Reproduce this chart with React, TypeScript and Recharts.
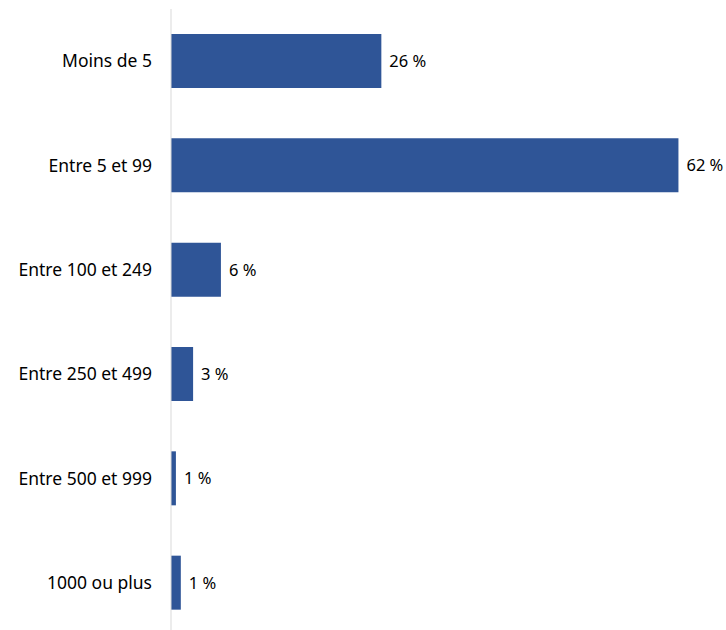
import React from "react";
import { BarChart, Bar, XAxis, YAxis, LabelList } from "recharts";

const categories = ["Moins de 5", "Entre 5 et 99", "Entre 100 et 249", "Entre 250 et 499", "Entre 500 et 999", "1000 ou plus"];
const values = [25.7, 62, 6.1, 2.7, 0.6, 1.2];
const valueLabels = ["26 %", "62 %", "6 %", "3 %", "1 %", "1 %"];

const data = categories.map((c, i) => ({ name: c, value: values[i], label: valueLabels[i] }));

const FONT = "'Noto Sans', 'Liberation Sans', sans-serif";

export default function App() {
  return (
    <div style={{ position: "absolute", left: 0, top: 0, width: 726, height: 630, overflow: "hidden", background: "#fff" }}>
      <BarChart
        width={726}
        height={640}
        data={data}
        layout="vertical"
        margin={{ top: 9, right: 23, bottom: 5, left: 0 }}
        barCategoryGap={0}
      >
        <XAxis type="number" domain={[0, 65]} hide />
        <YAxis
          type="category"
          dataKey="name"
          width={171}
          axisLine={{ stroke: "#d9d9d9", strokeWidth: 1 }}
          tickLine={false}
          tickMargin={13}
          tick={{ fill: "#000", fontSize: 17.5, fontFamily: FONT }}
        />
        <Bar dataKey="value" fill="#2F5597" barSize={54} isAnimationActive={false}>
          <LabelList dataKey="label" position="right" offset={8} fill="#000" fontSize={16.5} fontFamily={FONT} />
        </Bar>
      </BarChart>
    </div>
  );
}
